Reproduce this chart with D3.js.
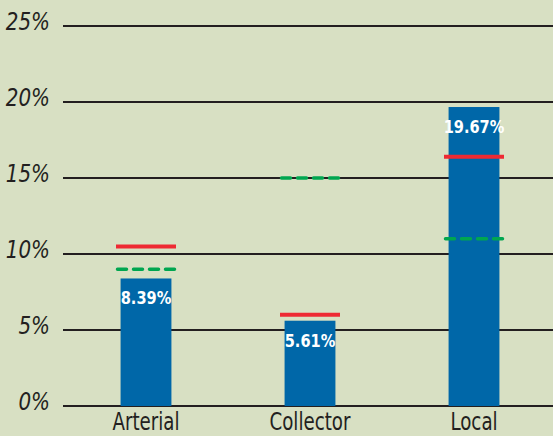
<!DOCTYPE html>
<html lang="en">
<head>
  <meta charset="UTF-8">
  <title>Share by road class</title>
  <style>
    body { margin: 0; background: #d8e0c3; }
    svg { display: block; }
    text { font-family: "DejaVu Sans", sans-serif; }
  </style>
</head>
<body>
  <svg width="553" height="436"></svg>
  <script src="https://d3js.org/d3.v7.min.js"></script>
  <script>
    // data
    const categories = ["Arterial", "Collector", "Local"];
    const shares = [8.39, 5.61, 19.67];
    const redMarks = [10.5, 6.0, 16.4];
    const greenMarks = [9.0, 15.0, 11.0];
    const yTicks = [0, 5, 10, 15, 20, 25];

    const svg = d3.select("svg");
    const width = 553;

    const x = d3.scaleBand()
      .domain(categories)
      .range([64, 556])
      .paddingInner(0.69)
      .paddingOuter(0.345);

    const y = d3.scaleLinear()
      .domain([0, 25])
      .range([406, 26]);

    // no condensed face available, so squeeze text horizontally
    const squeeze = (px, py, sx) => `translate(${px},${py}) scale(${sx},1)`;

    // gridlines + tick labels
    const grid = svg.append("g");
    grid.selectAll("line")
      .data(yTicks)
      .enter()
      .append("line")
      .attr("x1", 63)
      .attr("x2", width)
      .attr("y1", d => y(d))
      .attr("y2", d => y(d))
      .attr("stroke", "#231f20")
      .attr("stroke-width", 2);

    grid.selectAll("text")
      .data(yTicks)
      .enter()
      .append("text")
      .attr("transform", d => squeeze(50, y(d) + 4, 0.83))
      .attr("text-anchor", "end")
      .style("font-size", "24px")
      .style("font-style", "italic")
      .attr("fill", "#231f20")
      .text(d => d + "%");

    const rows = categories.map((c, i) => ({
      cat: c, value: shares[i], red: redMarks[i], green: greenMarks[i]
    }));
    const cx = d => x(d.cat) + x.bandwidth() / 2;

    // bars
    svg.append("g")
      .selectAll("rect")
      .data(rows)
      .enter()
      .append("rect")
      .attr("x", d => x(d.cat))
      .attr("width", x.bandwidth())
      .attr("y", d => y(d.value))
      .attr("height", d => y(0) - y(d.value))
      .attr("fill", "#0067a8");

    // value labels
    svg.append("g")
      .selectAll("text")
      .data(rows)
      .enter()
      .append("text")
      .attr("transform", d => squeeze(cx(d), y(d.value) + 26, 0.81))
      .attr("text-anchor", "middle")
      .style("font-size", "18px")
      .style("font-weight", "bold")
      .attr("fill", "#ffffff")
      .text(d => d.value.toFixed(2) + "%");

    // red marks
    svg.append("g")
      .selectAll("line")
      .data(rows)
      .enter()
      .append("line")
      .attr("x1", d => cx(d) - 30)
      .attr("x2", d => cx(d) + 30)
      .attr("y1", d => y(d.red))
      .attr("y2", d => y(d.red))
      .attr("stroke", "#ee2a33")
      .attr("stroke-width", 4);

    // green dashed marks
    svg.append("g")
      .selectAll("line")
      .data(rows)
      .enter()
      .append("line")
      .attr("x1", d => cx(d) - 28.5)
      .attr("x2", d => cx(d) + 30)
      .attr("y1", d => y(d.green))
      .attr("y2", d => y(d.green))
      .attr("stroke", "#00a650")
      .attr("stroke-width", 3.5)
      .attr("stroke-linecap", "round")
      .attr("stroke-dasharray", "9,7");

    // category labels
    svg.append("g")
      .selectAll("text")
      .data(categories)
      .enter()
      .append("text")
      .attr("transform", d => squeeze(x(d) + x.bandwidth() / 2, 430, 0.76))
      .attr("text-anchor", "middle")
      .style("font-size", "24px")
      .attr("fill", "#231f20")
      .text(d => d);
  </script>
</body>
</html>
